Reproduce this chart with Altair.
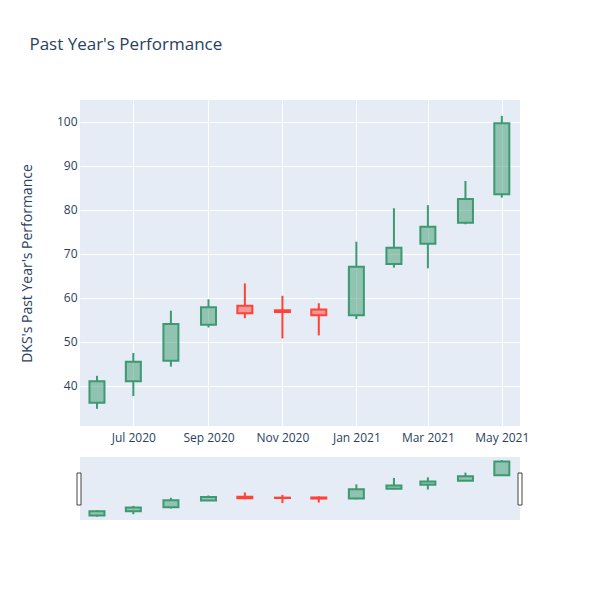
import altair as alt
import pandas as pd

dates = ["2020-06-01", "2020-07-01", "2020-08-01", "2020-09-01", "2020-10-01", "2020-11-01",
         "2020-12-01", "2021-01-01", "2021-02-01", "2021-03-01", "2021-04-01", "2021-05-01"]
opens = [36.2, 41.1, 45.75, 53.9, 58.25, 57.2, 57.4, 56.1, 67.7, 72.3, 77.1, 83.6]
closes = [41.1, 45.5, 54.1, 57.9, 56.5, 56.8, 56.1, 67.1, 71.4, 76.2, 82.5, 99.7]
highs = [42.3, 47.5, 57.1, 59.7, 63.3, 60.5, 58.8, 72.8, 80.4, 81.1, 86.6, 101.4]
lows = [34.8, 37.7, 44.4, 53.3, 55.4, 50.8, 51.5, 55.2, 66.9, 66.75, 76.75, 82.8]
tick_dates = ["2020-07-01", "2020-09-01", "2020-11-01", "2021-01-01", "2021-03-01", "2021-05-01"]
y_ticks = [40, 50, 60, 70, 80, 90, 100]

df = pd.DataFrame({"date": dates, "open": opens, "close": closes, "high": highs, "low": lows})
df["top"] = df[["open", "close"]].max(axis=1)
df["bot"] = df[["open", "close"]].min(axis=1)
df["dir"] = ["up" if c >= o else "down" for o, c in zip(opens, closes)]

TXT = "#2a3f5f"
FONT = "Open Sans"


def dt(s):
    y, m, d = (int(p) for p in s.split("-"))
    return alt.DateTime(year=y, month=m, date=d, utc=True)


xscale = alt.Scale(type="utc", domain=[dt("2020-05-18"), dt("2021-05-16")], padding=0)
col = alt.Scale(domain=["up", "down"], range=["#3D9970", "#FF4136"])


def candles(yscale, yaxis, show_x):
    xaxis = alt.Axis(values=[dt(t) for t in tick_dates], format="%b %Y", domain=False, ticks=False,
                     grid=True, gridColor="white", gridWidth=1, labelPadding=6, title=None) if show_x else None
    base = alt.Chart(df)
    x = alt.X("date:T", scale=xscale, axis=xaxis, title=None)
    stroke = alt.Stroke("dir:N", scale=col, legend=None)
    upper = base.mark_rule(strokeWidth=2).encode(
        x=x, y=alt.Y("top:Q", scale=yscale, axis=yaxis, title="DKS's Past Year's Performance"),
        y2="high:Q", stroke=stroke)
    lower = base.mark_rule(strokeWidth=2).encode(x=x, y=alt.Y("bot:Q", scale=yscale), y2="low:Q", stroke=stroke)
    body = base.mark_bar(size=15, strokeWidth=2, fillOpacity=0.5).encode(
        x=x, y=alt.Y("bot:Q", scale=yscale), y2="top:Q", stroke=stroke,
        fill=alt.Fill("dir:N", scale=col, legend=None))
    return upper, lower, body


main_y = alt.Scale(domain=[30.9, 105], nice=False, zero=False, padding=0)
main_axis = alt.Axis(values=y_ticks, domain=False, ticks=False, grid=True, gridColor="white",
                     labelPadding=3, titlePadding=22, titleFontSize=14, titleFontWeight="normal",
                     titleColor=TXT, titleFont=FONT)
u, l, b = candles(main_y, main_axis, True)
main = alt.layer(u, l, b).properties(width=440, height=326)

slider_y = alt.Scale(domain=[30.9, 105], nice=False, zero=False, padding=0)
su, sl, sb = candles(slider_y, None, False)
handles_df = pd.DataFrame({"side": ["left", "right"]})
left_handle = alt.Chart(handles_df).transform_filter("datum.side == 'left'").mark_rect(
    fill="white", stroke="#444", strokeWidth=1).encode(
    x=alt.value(-3), x2=alt.value(1), y=alt.value(16), y2=alt.value(48))
right_handle = alt.Chart(handles_df).transform_filter("datum.side == 'right'").mark_rect(
    fill="white", stroke="#444", strokeWidth=1).encode(
    x=alt.value(438), x2=alt.value(442), y=alt.value(16), y2=alt.value(48))
slider = alt.layer(su, sl, sb, left_handle, right_handle).properties(width=440, height=63)

chart = alt.vconcat(main, slider, spacing=14).properties(
    title=alt.TitleParams("Past Year's Performance", anchor="start", fontSize=17, fontWeight="normal",
                          color=TXT, font=FONT, offset=46, dx=9),
    padding={"left": 12, "top": 28, "right": 5, "bottom": 5},
    background="white",
).configure_view(strokeWidth=0, fill="#E5ECF6").configure_axis(
    labelFont=FONT, labelFontSize=12, labelColor=TXT
)

chart.save("out.html", embed_options={"renderer": "svg", "actions": False})
